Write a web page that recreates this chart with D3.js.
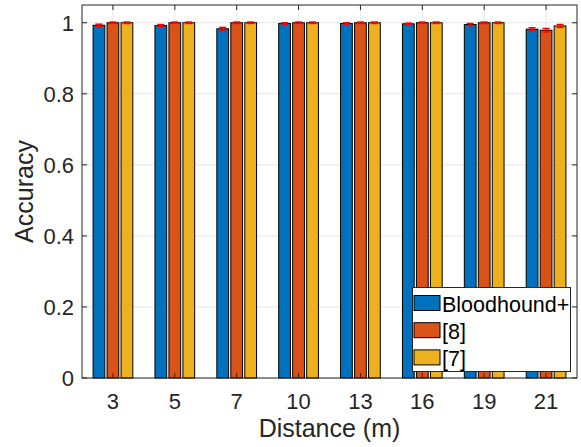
<!DOCTYPE html>
<html><head><meta charset="utf-8">
<script src="https://cdn.jsdelivr.net/npm/d3@7"></script>
<style>body{margin:0;background:#fff}svg{display:block}text{font-family:Arial,"Liberation Sans",sans-serif}</style>
</head><body>
<script>
const categories = ["3","5","7","10","13","16","19","21"];
const seriesNames = ["Bloodhound+","[8]","[7]"];
const bloodhound = [0.993,0.992,0.983,0.998,0.998,0.997,0.995,0.982];
const ref8 = [1.0,1.0,1.0,1.0,1.0,1.0,1.0,0.979];
const ref7 = [1.0,1.0,1.0,1.0,1.0,1.0,1.0,0.991];
const errBloodhound = [0.003,0.003,0.004,0.002,0.002,0.002,0.003,0.004];
const err8 = [0.002,0.002,0.002,0.002,0.002,0.002,0.002,0.005];
const err7 = [0.002,0.002,0.002,0.002,0.002,0.002,0.002,0.004];
const yTicks = [0,0.2,0.4,0.6,0.8,1];
const colors = ["#0072BD","#D95319","#EDB120"];

const W=581,H=447;
const m={l:82,r:4,t:5,b:69};
const svg=d3.select("body").append("svg").attr("width",W).attr("height",H);
const x=d3.scaleLinear().domain([0.5,categories.length+0.5]).range([m.l,W-m.r]);
const y=d3.scaleLinear().domain([0,1.05]).range([H-m.b,m.t]);
const series=[bloodhound,ref8,ref7];
const errs=[errBloodhound,err8,err7];
const offs=[-0.226,0,0.226];
const bw=0.19;

// grid
const g=svg.append("g");
g.selectAll(".gy").data(yTicks).join("line").attr("x1",x(0.5)).attr("x2",x(8.5))
 .attr("y1",d=>y(d)).attr("y2",d=>y(d)).attr("stroke","#e6e6e6").attr("stroke-width",1);
g.selectAll(".gx").data(categories).join("line").attr("x1",(d,i)=>x(i+1)).attr("x2",(d,i)=>x(i+1))
 .attr("y1",y(0)).attr("y2",y(1.05)).attr("stroke","#e6e6e6").attr("stroke-width",1);

// bars
series.forEach((s,k)=>{
  svg.append("g").selectAll("rect").data(s).join("rect")
   .attr("x",(d,i)=>x(i+1+offs[k]-bw/2)).attr("width",x(bw)-x(0))
   .attr("y",d=>y(d)).attr("height",d=>y(0)-y(d))
   .attr("fill",colors[k]).attr("stroke","#000").attr("stroke-width",1);
});
// error bars
series.forEach((s,k)=>{
  const eg=svg.append("g").attr("stroke","#ff0000").attr("stroke-width",1.5);
  s.forEach((d,i)=>{
    const cx=x(i+1+offs[k]), e=errs[k][i];
    eg.append("line").attr("x1",cx).attr("x2",cx).attr("y1",y(d-e)).attr("y2",y(Math.min(d+e,1.05)));
    [d-e,d+e].forEach(v=>{ if(v<=1.05) eg.append("line").attr("x1",cx-3.5).attr("x2",cx+3.5).attr("y1",y(v)).attr("y2",y(v)); });
  });
});

// axes box
const ax=svg.append("g").attr("stroke","#262626").attr("stroke-width",1).attr("fill","none");
ax.append("rect").attr("x",x(0.5)).attr("y",y(1.05)).attr("width",x(8.5)-x(0.5)).attr("height",y(0)-y(1.05));
categories.forEach((c,i)=>{
  ax.append("line").attr("x1",x(i+1)).attr("x2",x(i+1)).attr("y1",y(0)).attr("y2",y(0)-5);
  ax.append("line").attr("x1",x(i+1)).attr("x2",x(i+1)).attr("y1",y(1.05)).attr("y2",y(1.05)+5);
});
yTicks.forEach(t=>{
  ax.append("line").attr("x1",x(0.5)).attr("x2",x(0.5)+5).attr("y1",y(t)).attr("y2",y(t));
  ax.append("line").attr("x1",x(8.5)).attr("x2",x(8.5)-5).attr("y1",y(t)).attr("y2",y(t));
});
svg.append("g").selectAll("text").data(categories).join("text")
 .attr("x",(d,i)=>x(i+1)).attr("y",409).attr("text-anchor","middle")
 .attr("font-size",22).attr("fill","#262626").text(d=>d);
svg.append("g").selectAll("text").data(yTicks).join("text")
 .attr("x",x(0.5)-8).attr("y",d=>y(d)+8).attr("text-anchor","end")
 .attr("font-size",22).attr("fill","#262626").text(d=>d3.format("~g")(d));
svg.append("text").attr("x",(x(0.5)+x(8.5))/2).attr("y",437).attr("text-anchor","middle")
 .attr("font-size",25).attr("fill","#262626").text("Distance (m)");
svg.append("text").attr("transform",`translate(33,${(y(0)+y(1.05))/2}) rotate(-90)`).attr("text-anchor","middle")
 .attr("font-size",25).attr("fill","#262626").text("Accuracy");

// legend
const lg=svg.append("g").attr("transform","translate(412.5,287.5)");
lg.append("rect").attr("width",158).attr("height",84).attr("fill","#fff").attr("stroke","#262626").attr("stroke-width",1);
seriesNames.forEach((n,k)=>{
  const yy=8+k*27.2;
  lg.append("rect").attr("x",1.5).attr("y",yy).attr("width",26).attr("height",15).attr("fill",colors[k]).attr("stroke","#000");
  lg.append("text").attr("x",29.5).attr("y",yy+16).attr("font-size",21.5).attr("fill","#000").text(n);
});
</script>
</body></html>
